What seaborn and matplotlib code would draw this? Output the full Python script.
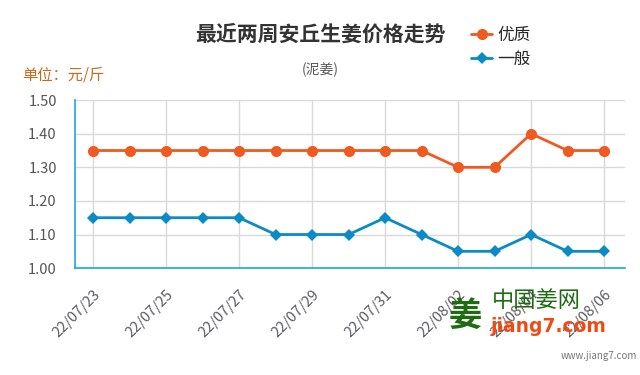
import pandas as pd
import matplotlib.pyplot as plt
import seaborn as sns

# 数据
dates = ['22/07/23', '22/07/24', '22/07/25', '22/07/26', '22/07/27', '22/07/28',
         '22/07/29', '22/07/30', '22/07/31', '22/08/01', '22/08/02', '22/08/03',
         '22/08/04', '22/08/05', '22/08/06']
youzhi = [1.35, 1.35, 1.35, 1.35, 1.35, 1.35, 1.35, 1.35, 1.35, 1.35, 1.30, 1.30, 1.40, 1.35, 1.35]
yiban = [1.15, 1.15, 1.15, 1.15, 1.15, 1.10, 1.10, 1.10, 1.15, 1.10, 1.05, 1.05, 1.10, 1.05, 1.05]
yticks = [1.0, 1.1, 1.2, 1.3, 1.4, 1.5]

df = pd.DataFrame({'idx': range(len(dates)), 'date': dates, '优质': youzhi, '一般': yiban})

sns.set_theme(style='white')
plt.rcParams['font.family'] = ['Noto Sans CJK SC', 'DejaVu Sans']

orange = '#ee5a1f'
blue = '#0a8bc6'
axis_blue = '#1ea7df'

fig = plt.figure(figsize=(6.4, 3.75), dpi=100)
ax = fig.add_axes([0.117, 0.285, 0.86, 0.448])

sns.lineplot(data=df, x='idx', y='优质', ax=ax, color=orange, marker='o',
             markersize=8, markeredgewidth=0, linewidth=2, label='优质')
sns.lineplot(data=df, x='idx', y='一般', ax=ax, color=blue, marker='D',
             markersize=6, markeredgewidth=0, linewidth=2, label='一般')

ax.set_xlim(-0.5, 14.58)
ax.set_ylim(1.0, 1.5)
ax.set_yticks(yticks)
ax.set_yticklabels([f'{v:.2f}' for v in yticks])
ax.set_xticks(df['idx'][::2])
ax.set_xticklabels(df['date'][::2], rotation=45, ha='right', rotation_mode='anchor')
ax.set_xlabel('')
ax.set_ylabel('')

ax.grid(True, color='#d9d9d9', linewidth=1)
ax.set_axisbelow(True)
for s in ['top', 'right']:
    ax.spines[s].set_visible(False)
for s in ['left', 'bottom']:
    ax.spines[s].set_color(axis_blue)
    ax.spines[s].set_linewidth(1.2)
ax.tick_params(axis='y', colors=axis_blue, labelcolor='#555555', labelsize=10.5,
               length=9, width=1, direction='out', pad=4)
ax.tick_params(axis='x', colors=axis_blue, labelcolor='#5a5a60', labelsize=10.5,
               length=9, width=1, direction='out', pad=5)

ax.legend_.remove()
handles, labels = ax.get_legend_handles_labels()
fig.legend(handles, labels, loc='upper left', bbox_to_anchor=(0.725, 0.945),
           frameon=False, fontsize=12, handlelength=1.3, handletextpad=0.3,
           labelspacing=0.4, borderaxespad=0)

fig.text(0.5, 0.91, '最近两周安丘生姜价格走势', ha='center', va='center',
         fontsize=15, fontweight='bold', color='#333333')
fig.text(0.5, 0.813, '(泥姜)', ha='center', va='center', fontsize=10, color='#555555')
fig.text(0.034, 0.8, '单位：元/斤', ha='left', va='center', fontsize=11, color='#c8691c')

# 水印
fig.text(0.727, 0.155, '姜', ha='center', va='center', fontsize=24, fontweight='bold', color='#1e6b12')
fig.text(0.838, 0.198, '中国姜网', ha='center', va='center', fontsize=16, color='#1e6b12')
fig.text(0.857, 0.13, 'jiang7.com', ha='center', va='center', fontsize=13.5,
         fontweight='bold', color='#f04a14', family=['DejaVu Sans'])
fig.text(0.995, 0.05, 'www.jiang7.com', ha='right', va='center', fontsize=7, color='#777777')

fig.savefig('out.png', dpi=100)
